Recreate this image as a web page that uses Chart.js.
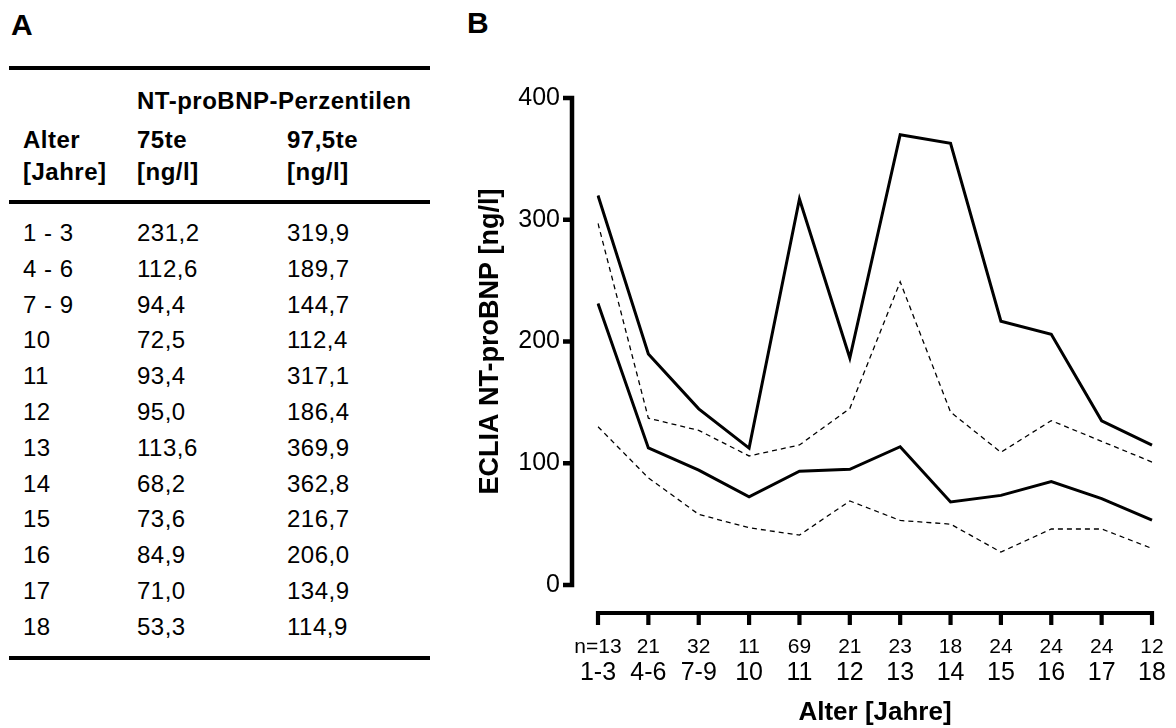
<!DOCTYPE html>
<html>
<head>
<meta charset="utf-8">
<script src="https://cdn.jsdelivr.net/npm/chart.js@4/dist/chart.umd.min.js"></script>
<style>
  body { margin: 0; background: #fff; }
  #page { position: relative; width: 1176px; height: 728px; font-family: 'Liberation Sans', Arial, sans-serif; color: #000; }
  .t { position: absolute; white-space: nowrap; letter-spacing: 0.5px; }
  .rule { position: absolute; left: 9px; width: 421px; height: 4px; background: #000; }
  #chartBox { position: absolute; left: 460px; top: 60px; width: 716px; height: 668px; }
</style>
</head>
<body>
<div id="page">
  <div id="chartBox"><canvas id="chartB"></canvas></div>
</div>
<script>
/* DATOS */
const edades = ['1-3', '4-6', '7-9', '10', '11', '12', '13', '14', '15', '16', '17', '18'];
const edadesTabla = ['1 - 3', '4 - 6', '7 - 9', '10', '11', '12', '13', '14', '15', '16', '17', '18'];
const nCasos = ['n=13', '21', '32', '11', '69', '21', '23', '18', '24', '24', '24', '12'];
const p75 = [231.2, 112.6, 94.4, 72.5, 93.4, 95.0, 113.6, 68.2, 73.6, 84.9, 71.0, 53.3];
const p975 = [319.9, 189.7, 144.7, 112.4, 317.1, 186.4, 369.9, 362.8, 216.7, 206.0, 134.9, 114.9];
// lineas punteadas
const limiteSup = [297, 137, 127, 106, 115, 145, 249, 142, 109, 135, 118, 101];
const limiteInf = [130, 88, 58, 47, 41, 69, 53, 50, 27, 46, 46, 30];
const yTicks = [0, 100, 200, 300, 400];

/* TABLA (panel A) */
const page = document.getElementById('page');

function texto(str, left, centerY, size, bold) {
  const d = document.createElement('div');
  d.className = 't';
  d.textContent = str;
  d.style.left = left + 'px';
  d.style.top = (centerY - size / 2) + 'px';
  d.style.fontSize = size + 'px';
  d.style.lineHeight = size + 'px';
  if (bold) d.style.fontWeight = 'bold';
  page.appendChild(d);
}

function regla(centerY) {
  const r = document.createElement('div');
  r.className = 'rule';
  r.style.top = (centerY - 2) + 'px';
  page.appendChild(r);
}

texto('A', 11, 25, 30, true);
texto('B', 467, 23, 30, true);

regla(68);
regla(202);
regla(658);

const col = [23, 137, 287];
texto('NT-proBNP-Perzentilen', col[1], 101, 24, true);
texto('Alter', col[0], 140, 24, true);
texto('75te', col[1], 140, 24, true);
texto('97,5te', col[2], 140, 24, true);
texto('[Jahre]', col[0], 172, 24, true);
texto('[ng/l]', col[1], 172, 24, true);
texto('[ng/l]', col[2], 172, 24, true);

const fmt = v => v.toFixed(1).replace('.', ',');
edadesTabla.forEach((e, i) => {
  const cy = 233 + i * 35.8;
  texto(e, col[0], cy, 24, false);
  texto(fmt(p75[i]), col[1], cy, 24, false);
  texto(fmt(p975[i]), col[2], cy, 24, false);
});

/* EJES PROPIOS (estilo Prism) */
const ejesPrism = {
  id: 'ejesPrism',
  afterDraw(chart) {
    const { ctx, scales: { x, y } } = chart;
    const ax = chart.chartArea.left - 26;
    const y0 = y.getPixelForValue(0);
    const yTop = y.getPixelForValue(400);
    ctx.save();
    ctx.strokeStyle = '#000';
    ctx.lineJoin = 'miter';
    ctx.lineCap = 'butt';

    // eje Y
    ctx.lineWidth = 4.5;
    ctx.beginPath();
    ctx.moveTo(ax - 9, yTop);
    ctx.lineTo(ax, yTop);
    ctx.lineTo(ax, y0);
    ctx.lineTo(ax - 9, y0);
    yTicks.slice(1, -1).forEach(v => {
      const py = y.getPixelForValue(v);
      ctx.moveTo(ax - 9, py);
      ctx.lineTo(ax, py);
    });
    ctx.stroke();

    // eje X
    const ly = y0 + 28;
    const x0 = x.getPixelForValue(0);
    const xN = x.getPixelForValue(edades.length - 1);
    ctx.lineWidth = 4.2;
    ctx.beginPath();
    ctx.moveTo(x0, ly + 12);
    ctx.lineTo(x0, ly);
    ctx.lineTo(xN, ly);
    ctx.lineTo(xN, ly + 12);
    for (let i = 1; i < edades.length - 1; i++) {
      const px = x.getPixelForValue(i);
      ctx.moveTo(px, ly);
      ctx.lineTo(px, ly + 12);
    }
    ctx.stroke();
    ctx.restore();
  }
};

// quitar el relleno automatico de las escalas para fijar el area
function sinPadding(s) {
  s.paddingTop = 0;
  s.paddingBottom = 0;
  s.paddingLeft = 0;
  s.paddingRight = 0;
}

/* GRAFICA (panel B) */
function renderChartB() {
  const ctx = document.getElementById('chartB').getContext('2d');
  const solida = { borderColor: '#000', borderWidth: 3, pointRadius: 0, tension: 0, fill: false };
  const punteada = { borderColor: '#000', borderWidth: 1.3, borderDash: [5, 4], pointRadius: 0, tension: 0, fill: false };

  window.chartB = new Chart(ctx, {
    type: 'line',
    data: {
      labels: edades,
      datasets: [
        { label: '97,5te', data: p975, ...solida },
        { label: '75te', data: p75, ...solida },
        { label: 'oben', data: limiteSup, ...punteada },
        { label: 'unten', data: limiteInf, ...punteada },
      ],
    },
    options: {
      responsive: true,
      maintainAspectRatio: false,
      animation: false,
      layout: { padding: { left: 0, right: 24, top: 38, bottom: 0 } },
      plugins: {
        legend: { display: false },
        tooltip: { enabled: false },
      },
      scales: {
        y: {
          min: 0,
          max: 400,
          afterFit: s => { s.width = 138; sinPadding(s); },
          afterBuildTicks: s => { s.ticks = yTicks.map(v => ({ value: v })); },
          border: { display: false },
          grid: { display: false, drawTicks: false },
          ticks: { color: '#000', padding: 38, font: { family: 'Liberation Sans', size: 25 } },
          title: {
            display: true,
            text: 'ECLIA NT-proBNP [ng/l]',
            color: '#000',
            padding: { top: 14, bottom: 0 },
            font: { family: 'Liberation Sans', size: 27, weight: 'bold' },
          },
        },
        n: {
          type: 'category',
          position: 'bottom',
          labels: nCasos,
          offset: false,
          weight: 0,
          afterFit: s => { s.height = 70; sinPadding(s); },
          border: { display: false },
          grid: { display: false, drawTicks: false },
          ticks: { color: '#000', padding: 49.5, maxRotation: 0, autoSkip: false, font: { family: 'Liberation Sans', size: 21 } },
        },
        x: {
          type: 'category',
          position: 'bottom',
          offset: false,
          weight: 1,
          afterFit: s => { s.height = 73; sinPadding(s); },
          border: { display: false },
          grid: { display: false, drawTicks: false },
          ticks: { color: '#000', padding: 3, maxRotation: 0, autoSkip: false, font: { family: 'Liberation Sans', size: 25 } },
          title: {
            display: true,
            text: 'Alter [Jahre]',
            color: '#000',
            padding: { top: 0, bottom: 0 },
            font: { family: 'Liberation Sans', size: 26, weight: 'bold' },
          },
        },
      },
    },
    plugins: [ejesPrism],
  });
}

/* INIT */
renderChartB();
</script>
</body>
</html>
